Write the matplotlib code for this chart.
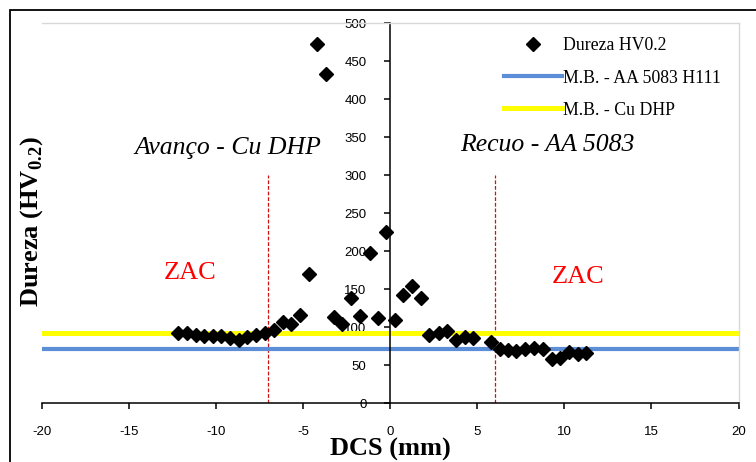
import matplotlib
matplotlib.use("Agg")
import matplotlib.pyplot as plt
from matplotlib.patches import Rectangle

plt.rcParams['mathtext.fontset'] = 'custom'
plt.rcParams['mathtext.rm'] = 'Liberation Serif'
plt.rcParams['mathtext.bf'] = 'Liberation Serif:bold'

# Data
dcs_mm = [-12.17, -11.68, -11.18, -10.69, -10.19, -9.70, -9.20, -8.70, -8.21, -7.71,
          -7.21, -6.68, -6.18, -5.69, -5.19, -4.69, -4.20, -3.70, -3.24, -2.75,
          -2.26, -1.76, -1.18, -0.73, -0.23, 0.26, 0.76, 1.26, 1.75, 2.25,
          2.78, 3.28, 3.78, 4.27, 4.77, 5.80, 6.30, 6.79, 7.25, 7.75,
          8.24, 8.78, 9.27, 9.77, 10.26, 10.76, 11.25]
dureza_hv = [93, 93, 90, 89, 88, 88, 86, 83, 87, 90,
             92, 96, 107, 105, 116, 170, 473, 433, 113, 105,
             139, 115, 198, 112, 226, 110, 142, 155, 138, 90,
             93, 95, 83, 87, 86, 81, 71, 70, 69, 71,
             73, 72, 58, 60, 68, 65, 66]
mb_aa5083 = 72
mb_cu_dhp = 93
zac_limits = [-7, 6]
zac_top = 300
x_ticks = [-20, -15, -10, -5, 0, 5, 10, 15, 20]
y_ticks = [0, 50, 100, 150, 200, 250, 300, 350, 400, 450, 500]

W, H = 756, 462
fig = plt.figure(figsize=(W / 100, H / 100), dpi=100)

# outer frame
fig.patches.append(Rectangle((10 / W, -0.1), 2.0, (H - 10) / H + 0.1, transform=fig.transFigure,
                             fill=False, edgecolor='black', linewidth=1.3))

left, right = 42 / W, 738.5 / W
bottom, top = (H - 403.3) / H, (H - 23.3) / H
ax = fig.add_axes([left, bottom, right - left, top - bottom])
ax.set_xlim(-20, 20)
ax.set_ylim(0, 500)

serif = ['Liberation Serif', 'DejaVu Serif']
sans = ['Liberation Sans', 'DejaVu Sans']

# horizontal base-material lines
l_blue = ax.axhline(mb_aa5083, color='#5B8ED6', linewidth=3.0, zorder=2)
l_yel = ax.axhline(mb_cu_dhp, color='#FFFF00', linewidth=3.6, zorder=2)

# ZAC limits
for xl in zac_limits:
    ax.plot([xl, xl], [0, zac_top], color='#D01010', linewidth=0.9,
            linestyle=(0, (3, 1.5)), zorder=1)

# points
pts, = ax.plot(dcs_mm, dureza_hv, linestyle='none', marker='D', markersize=7.5,
               color='black', zorder=3)

# spines
ax.spines['left'].set_position(('data', 0))
ax.spines['left'].set_linewidth(1.1)
ax.spines['bottom'].set_linewidth(1.1)
for s in ['top', 'right']:
    ax.spines[s].set_color('#d8d8d8')
    ax.spines[s].set_linestyle((0, (2, 1)))
    ax.spines[s].set_linewidth(1.0)

ax.set_xticks(x_ticks)
ax.set_yticks(y_ticks)
ax.set_xticklabels([str(v) for v in x_ticks], family=sans, fontsize=9.5)
ax.set_yticklabels([str(v) for v in y_ticks], family=sans, fontsize=9.5)
ax.tick_params(axis='x', direction='out', length=4, width=1.1, pad=12)
ax.tick_params(axis='y', direction='out', length=4, width=1.1, pad=13)

# axis labels
fig.text(390 / W, 1 - 449 / H, 'DCS (mm)', family=serif, fontsize=19, fontweight='bold',
         ha='center', va='center')
fig.text(32 / W, 1 - 222 / H, r'Dureza (HV$_{\mathbf{0.2}}$)', family=serif, fontsize=19,
         fontweight='bold', ha='center', va='center', rotation=90)

# annotations
ax.text(-9.3, 336, 'Avanço - Cu DHP', family=serif, style='italic', fontsize=18.5,
        ha='center', va='center')
ax.text(9.0, 340, 'Recuo - AA 5083', family=serif, style='italic', fontsize=18.5,
        ha='center', va='center')
ax.text(-11.5, 172, 'ZAC', family=serif, fontsize=19, color='#FF0000', ha='center', va='center')
ax.text(10.8, 166, 'ZAC', family=serif, fontsize=19, color='#FF0000', ha='center', va='center')

leg = ax.legend([pts, l_blue, l_yel],
                ['Dureza HV0.2', 'M.B. - AA 5083 H111', 'M.B. - Cu DHP'],
                loc='upper right', bbox_to_anchor=(0.998, 1.005),
                prop={'family': serif, 'size': 12.8}, frameon=True, fancybox=False,
                edgecolor='white', facecolor='white', framealpha=1,
                handlelength=3.3, handletextpad=0.05, labelspacing=0.85, borderpad=0.4)

fig.savefig('out.png', dpi=100)
